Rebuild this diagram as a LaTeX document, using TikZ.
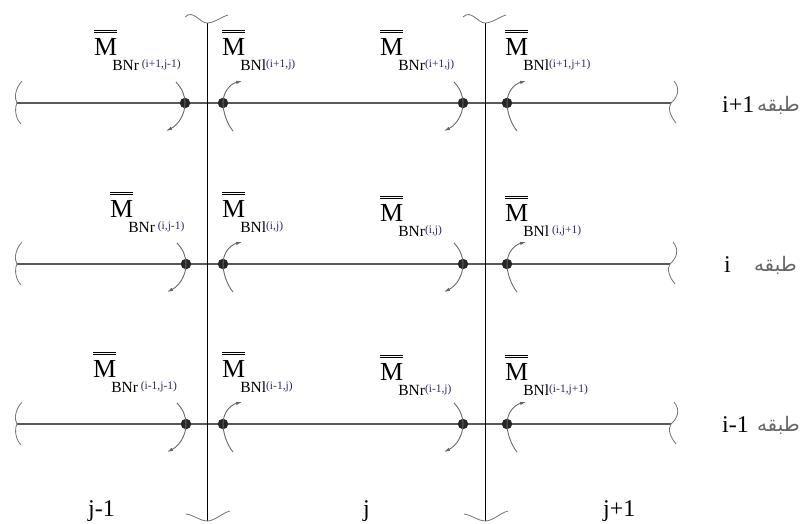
\documentclass[tikz,border=0pt]{standalone}
\usepackage{fontspec}
\setmainfont{Liberation Serif}
\newfontfamily\arabicfont[Script=Arabic]{DejaVu Sans}
\TeXXeTstate=1
\usepackage{xcolor}
\usepackage{tikz}
\usetikzlibrary{arrows.meta,positioning}

\definecolor{idxblue}{RGB}{40,45,95}
% double-barred M with subscript and index
\newcommand{\dbar}[1]{\vbox{\hrule height 1pt\kern1.5pt\hrule height 1pt\kern4.5pt\hbox{#1}}}
\newcommand{\Mb}[2]{{\fontsize{26}{26}\selectfont\dbar{M}}\kern-5pt\raisebox{-15pt}{\fontsize{15.5}{15.5}\selectfont #1\raisebox{3pt}{\color{idxblue}\fontsize{11.5}{11.5}\selectfont #2}}}

\begin{document}
\begin{tikzpicture}[
  x=1pt, y=-1pt,
  beam/.style={draw=black!65, line width=1.3pt},
  col/.style={draw=black, line width=0.8pt},
  brk/.style={draw=black!55, line width=0.8pt},
  joint/.style={circle, fill=black!85, inner sep=0pt, minimum size=10.5pt},
  mlab/.style={anchor=base west, inner sep=0pt},
  tag/.style={anchor=base west, inner sep=0pt, font=\fontsize{24}{24}\selectfont},
  floor/.style={anchor=base east, inner sep=0pt, text=black!60, font=\fontsize{20}{20}\selectfont\arabicfont},
  mom/.style={draw=black!60, line width=0.9pt, -{Latex[length=6pt,width=3.5pt]}},
  mleft/.pic={\draw[mom] (-9,-21) .. controls (-3.3,-15) and (0,-8) .. (0,0) .. controls (0,12) and (-7,22) .. (-19,28);},
  mright/.pic={\draw[mom] (10,28) .. controls (3.5,20) and (0,8) .. (0,0) .. controls (0,-11) and (7,-19) .. (19,-22);},
  lbrk/.pic={\draw[brk] (5,-22) .. controls (-2,-14) and (-3,-5) .. (0,0) .. controls (-3,6) and (-1,16) .. (4,21);},
  rbrk/.pic={\draw[brk] (3,-22) .. controls (10,-14) and (6,-5) .. (0,0) .. controls (-4,5) and (0,14) .. (5,20);},
  tbrk/.pic={\draw[brk] (-22,-6) .. controls (-14,-14) and (-7,0) .. (0,0) .. controls (7,0) and (14,-6) .. (21,-8);},
  bbrk/.pic={\draw[brk] (-21,-7) .. controls (-13,-6) and (-7,0) .. (0,0) .. controls (8,0) and (15,-8) .. (23,-10);}
]
\useasboundingbox (0,0) rectangle (804,523);

% break ends
\coordinate (L1) at (17,103);  \coordinate (R1) at (671,103);
\coordinate (L2) at (17,264);  \coordinate (R2) at (670,264);
\coordinate (L3) at (17,424);  \coordinate (R3) at (671,424);
\coordinate (T1) at (207,23);  \coordinate (B1) at (207,521);
\coordinate (T2) at (485,23);  \coordinate (B2) at (485,521);

\draw[beam] (L1) -- (R1);
\draw[beam] (L2) -- (R2);
\draw[beam] (L3) -- (R3);
\draw[col] (T1) -- (B1);
\draw[col] (T2) -- (B2);

\pic at (L1) {lbrk}; \pic at (R1) {rbrk};
\pic at (L2) {lbrk}; \pic at (R2) {rbrk};
\pic at (L3) {lbrk}; \pic at (R3) {rbrk};
\pic at (T1) {tbrk}; \pic at (B1) {bbrk};
\pic at (T2) {tbrk}; \pic at (B2) {bbrk};

% joints
\node[joint] (d11) at (185,103) {};
\node[joint] (d12) at (223,103) {};
\node[joint] (d13) at (463,103) {};
\node[joint] (d14) at (507,103) {};
\node[joint] (d21) at (186,264) {};
\node[joint] (d22) at (223,264) {};
\node[joint] (d23) at (463,264) {};
\node[joint] (d24) at (507,264) {};
\node[joint] (d31) at (186,424) {};
\node[joint] (d32) at (223,424) {};
\node[joint] (d33) at (463,424) {};
\node[joint] (d34) at (507,424) {};

% moments
\pic at (d11) {mleft}; \pic at (d12) {mright};
\pic at (d13) {mleft}; \pic at (d14) {mright};
\pic at (d21) {mleft}; \pic at (d22) {mright};
\pic at (d23) {mleft}; \pic at (d24) {mright};
\pic at (d31) {mleft}; \pic at (d32) {mright};
\pic at (d33) {mleft}; \pic at (d34) {mright};

% labels
\node[mlab] (m11) at (94,55) {\Mb{BNr}{\ (i+1,j-1)}};
\node[mlab] (m12) at (222,55) {\Mb{BNl}{(i+1,j)}};
\node[mlab] (m13) at (380,55) {\Mb{BNr}{(i+1,j)}};
\node[mlab] (m14) at (505,55) {\Mb{BNl}{(i+1,j+1)}};
\node[mlab] (m21) at (110,217) {\Mb{BNr}{\ (i,j-1)}};
\node[mlab] (m22) at (222,217) {\Mb{BNl}{(i,j)}};
\node[mlab] (m23) at (380,221) {\Mb{BNr}{(i,j)}};
\node[mlab] (m24) at (505,221) {\Mb{BNl}{\ (i,j+1)}};
\node[mlab] (m31) at (93,377) {\Mb{BNr}{\ (i-1,j-1)}};
\node[mlab] (m32) at (222,377) {\Mb{BNl}{(i-1,j)}};
\node[mlab] (m33) at (380,380) {\Mb{BNr}{(i-1,j)}};
\node[mlab] (m34) at (505,380) {\Mb{BNl}{(i-1,j+1)}};

% floors and bays
\node[tag] (i1) at (722,112) {i+1};
\node[tag] (i2) at (724,272) {i};
\node[tag] (i3) at (722,432) {i-1};
\node[floor] (f1) at (800,111) {\beginR طبقه\endR};
\node[floor] (f2) at (797,271) {\beginR طبقه\endR};
\node[floor] (f3) at (800,431) {\beginR طبقه\endR};
\node[tag] (j1) at (88,516) {j-1};
\node[tag] (j2) at (363,516) {j};
\node[tag] (j3) at (603,516) {j+1};

\end{tikzpicture}
\end{document}
